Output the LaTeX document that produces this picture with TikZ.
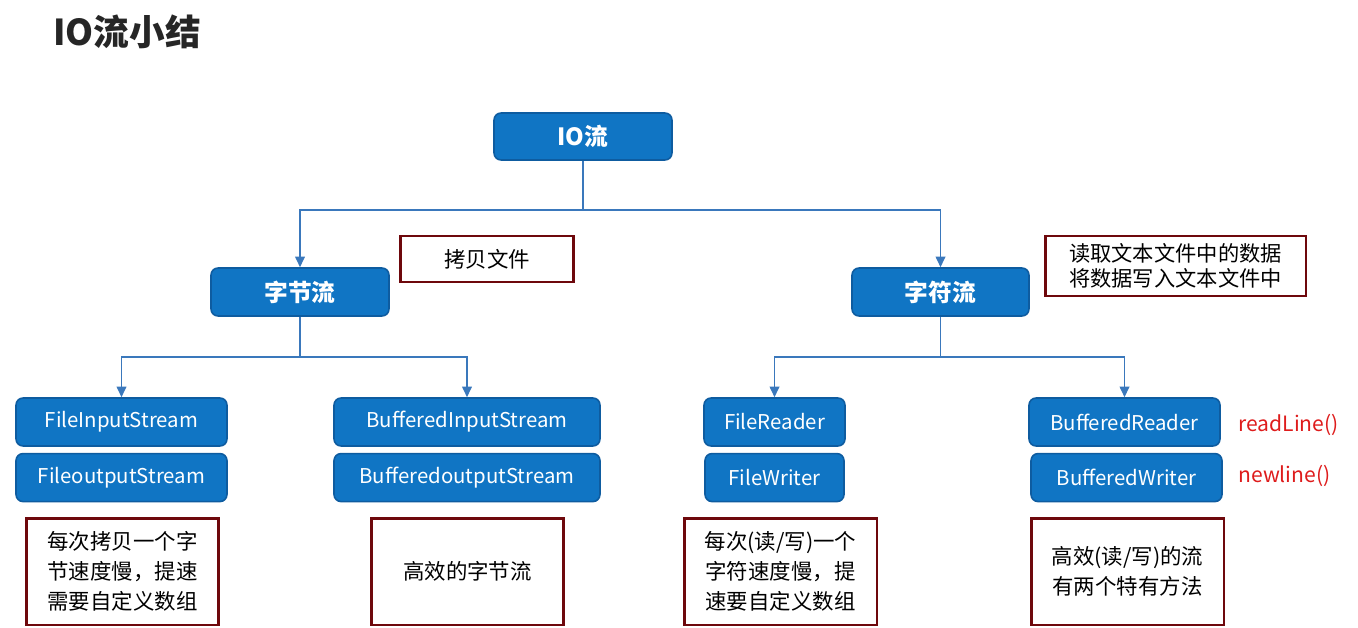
\documentclass[tikz,border=0pt]{standalone}
\usepackage{fontspec}
\setmainfont{Noto Sans CJK SC}
\usetikzlibrary{arrows.meta,positioning}
\definecolor{iofill}{RGB}{16,117,196}
\definecolor{ioedge}{RGB}{14,92,160}
\definecolor{ioline}{RGB}{58,120,188}
\definecolor{notered}{RGB}{110,8,12}
\definecolor{methodred}{RGB}{222,28,28}
\definecolor{titlegray}{RGB}{38,38,38}

\begin{document}
\begin{tikzpicture}[
  x=0.02cm, y=-0.02cm,
  node distance=0.12cm,
  stream/.style={draw=ioedge, line width=0.9pt, rounded corners=4pt, fill=iofill, text=white, minimum height=0.96cm, inner sep=0pt, font=\fontsize{11.6}{14}\selectfont},
  group/.style={stream, minimum width=3.56cm, font=\bfseries\fontsize{13.5}{16}\selectfont},
  note/.style={draw=notered, line width=1.7pt, fill=white, align=center, inner sep=0pt, minimum width=3.86cm, minimum height=2.14cm, font=\fontsize{12.2}{17}\selectfont},
  method/.style={text=methodred, anchor=west, inner sep=0pt, font=\fontsize{12}{14}\selectfont},
  link/.style={draw=ioline, line width=0.8pt},
  arr/.style={link, -{Triangle[width=5.5pt,length=6pt]}},
]
\useasboundingbox (0,0) rectangle (1358,628);
\node[text=titlegray, anchor=west, inner sep=0pt, font=\bfseries\fontsize{20.3}{24}\selectfont] (title) at (53,32) {IO流小结};

\node[group, minimum height=0.94cm] (io) at (583,136.5) {IO流};
\node[group] (byte) at (300,292) {字节流};
\node[group, minimum width=3.54cm] (char) at (940.5,292) {字符流};

\node[note, minimum width=3.48cm, minimum height=0.92cm] (copy) at (487,259) {拷贝文件};
\node[note, minimum width=5.22cm, minimum height=1.2cm, font=\fontsize{12.1}{14.5}\selectfont] (rw) at (1175.5,266) {读取文本文件中的数据\\将数据写入文本文件中};

% byte streams
\node[stream, minimum width=4.22cm] (fis) at (121.5,422) {FileInputStream};
\node[stream, minimum width=4.22cm, below=of fis] (fos) {FileoutputStream};
\node[stream, minimum width=5.32cm] (bis) at (467,422) {BufferedInputStream};
\node[stream, minimum width=5.32cm, below=of bis] (bos) {BufferedoutputStream};

% char streams
\node[stream, minimum width=2.82cm] (fr) at (774.5,422) {FileReader};
\node[stream, minimum width=2.78cm, below=of fr] (fw) {FileWriter};
\node[stream, minimum width=3.82cm] (br) at (1124.5,422) {BufferedReader};
\node[stream, minimum width=3.82cm, below=of br, xshift=0.04cm] (bw) {BufferedWriter};

\node[method] (readln) at (1238,425) {readLine()};
\node[method] (newln) at (1238,476) {newline()};

% notes
\node[note] (n1) at (122.5,571.5) {每次拷贝一个字\\节速度慢，提速\\需要自定义数组};
\node[note] (n2) at (467.5,571.5) {高效的字节流};
\node[note] (n3) at (780.5,571.5) {每次(读/写)一个\\字符速度慢，提\\速要自定义数组};
\node[note] (n4) at (1127.5,571.5) {高效(读/写)的流\\有两个特有方法};

% connectors
\coordinate (top) at (583,210);
\draw[link] (io.south) -- (top);
\draw[arr] (top) -| (byte.north);
\draw[arr] (top) -| (char.north);

\coordinate (bsplit) at (300,357);
\draw[link] (byte.south) -- (bsplit);
\draw[arr] (bsplit) -| (fis.north);
\draw[arr] (bsplit) -| (bis.north);

\coordinate (csplit) at (940.5,357);
\draw[link] (char.south) -- (csplit);
\draw[arr] (csplit) -| (fr.north);
\draw[arr] (csplit) -| (br.north);
\end{tikzpicture}
\end{document}
